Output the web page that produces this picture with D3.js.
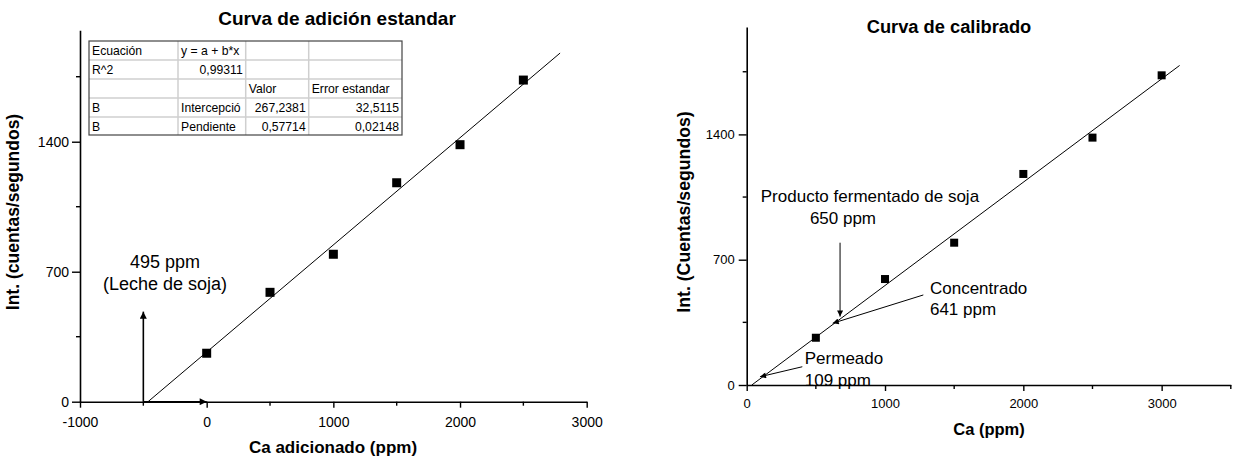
<!DOCTYPE html>
<html><head><meta charset="utf-8">
<script src="https://cdn.jsdelivr.net/npm/d3@7"></script>
<style>
body{margin:0;background:#fff}
text{font-family:"Liberation Sans",Arial,Helvetica,sans-serif;fill:#000}
</style>
</head><body>
<svg id="c" width="1237" height="465"></svg>
<script>
// ---------- data ----------
const addCa = [0, 500, 1000, 1500, 2000, 2500];
const addInt = [261, 589, 794, 1179, 1384, 1732];
const addFit = {a: 267.2381, b: 0.57714, from: -463, to: 2790};
const addXMajor = [-1000, 0, 1000, 2000, 3000];
const addXMinor = [-500, 500, 1500, 2500];
const addYMajor = [0, 700, 1400];
const addYMinor = [350, 1050, 1750];

const calCa = [500, 1000, 1500, 2000, 2500, 3000];
const calInt = [264, 592, 795, 1179, 1382, 1730];
const calFit = {a: -21.33, b: 0.57714, from: 37, to: 3130};
const calXMajor = [0, 1000, 2000, 3000];
const calXMinor = [500, 1500, 2500, 3500];
const calYMajor = [0, 700, 1400];
const calYMinor = [350, 1050, 1750];

const tableRows = [
  ["Ecuación", "y = a + b*x", "", ""],
  ["R^2", "0,99311", "", ""],
  ["", "", "Valor", "Error estandar"],
  ["B", "Intercepció", "267,2381", "32,5115"],
  ["B", "Pendiente", "0,57714", "0,02148"]
];

const svg = d3.select("#c");
const defs = svg.append("defs");
defs.append("marker").attr("id","headBig").attr("viewBox","0 0 10 10")
  .attr("refX",10).attr("refY",5).attr("markerWidth",10).attr("markerHeight",7)
  .attr("markerUnits","userSpaceOnUse").attr("orient","auto")
  .append("path").attr("d","M0,0L10,5L0,10Z").attr("fill","#000");
defs.append("marker").attr("id","headSmall").attr("viewBox","0 0 10 10")
  .attr("refX",10).attr("refY",5).attr("markerWidth",9).attr("markerHeight",6)
  .attr("markerUnits","userSpaceOnUse").attr("orient","auto")
  .append("path").attr("d","M0,0L10,5L0,10Z").attr("fill","#000");

function drawAxes(x, y, xMaj, xMin, yMaj, yMin, fs, xLabY, yLabX) {
  const y0 = y(0), x0 = x.domain()[0];
  const gx = svg.append("g").attr("transform", `translate(0,${y0})`)
    .call(d3.axisBottom(x).tickValues(xMaj).tickSize(6).tickSizeOuter(0).tickFormat(d => String(d)));
  gx.select(".domain").attr("stroke","#000").attr("stroke-width",1.6);
  gx.selectAll(".tick line").attr("stroke","#000").attr("stroke-width",1.4);
  gx.selectAll(".tick text").attr("font-size",fs).attr("y",xLabY).attr("dy",0);
  gx.selectAll(".minor").data(xMin).enter().append("line")
    .attr("x1",d=>x(d)).attr("x2",d=>x(d)).attr("y1",0).attr("y2",4)
    .attr("stroke","#000").attr("stroke-width",1.4);

  const gy = svg.append("g").attr("transform", `translate(${x(x0)},0)`)
    .call(d3.axisLeft(y).tickValues(yMaj).tickSize(8).tickSizeOuter(0).tickPadding(yLabX).tickFormat(d => String(d)));
  gy.select(".domain").attr("stroke","#000").attr("stroke-width",1.6);
  gy.selectAll(".tick line").attr("stroke","#000").attr("stroke-width",1.4);
  gy.selectAll(".tick text").attr("font-size",fs);
  gy.selectAll(".minor").data(yMin).enter().append("line")
    .attr("y1",d=>y(d)).attr("y2",d=>y(d)).attr("x1",0).attr("x2",-4)
    .attr("stroke","#000").attr("stroke-width",1.4);
}

function drawFit(x, y, fit) {
  const pts = [fit.from, fit.to].map(v => [x(v), y(fit.a + fit.b * v)]);
  svg.append("path").attr("d", d3.line()(pts)).attr("stroke","#000").attr("stroke-width",1).attr("fill","none");
}
function drawPoints(x, y, xs, ys, s) {
  svg.append("g").selectAll("rect").data(xs).enter().append("rect")
    .attr("x",(d)=>x(d)-s/2).attr("y",(d,i)=>y(ys[i])-s/2).attr("width",s).attr("height",s).attr("fill","#000");
}

// ---------- left chart ----------
const xL = d3.scaleLinear().domain([-1000, 3000]).range([80, 586.7]);
const yL = d3.scaleLinear().domain([0, 2000]).range([401.7, 30.3]);
drawAxes(xL, yL, addXMajor, addXMinor, addYMajor, addYMinor, 14, 25, 3);
drawFit(xL, yL, addFit);
drawPoints(xL, yL, addCa, addInt, 9);

// annotation arrows (data units)
svg.append("line").attr("x1",xL(-500)).attr("x2",xL(-500)).attr("y1",yL(0)).attr("y2",yL(485))
  .attr("stroke","#000").attr("stroke-width",1.6).attr("marker-end","url(#headBig)");
svg.append("line").attr("x1",xL(-500)).attr("x2",xL(0)).attr("y1",yL(0)).attr("y2",yL(0))
  .attr("stroke","#000").attr("stroke-width",1.6).attr("marker-end","url(#headBig)");
svg.append("text").attr("x",xL(-329)).attr("y",yL(718)).attr("text-anchor","middle").attr("font-size",18).text("495 ppm");
svg.append("text").attr("x",xL(-329)).attr("y",yL(601)).attr("text-anchor","middle").attr("font-size",18).text("(Leche de soja)");

svg.append("text").attr("x",337).attr("y",25).attr("text-anchor","middle").attr("font-size",19).attr("font-weight","bold").text("Curva de adición estandar");
svg.append("text").attr("x",333).attr("y",453).attr("text-anchor","middle").attr("font-size",17).attr("font-weight","bold").text("Ca adicionado (ppm)");
svg.append("text").attr("transform","translate(19,212) rotate(-90)").attr("text-anchor","middle").attr("font-size",17.5).attr("font-weight","bold").text("Int. (cuentas/segundos)");

// table
const colX = [89, 178, 245.7, 308.7, 402];
const rowY = [41, 60, 79, 98, 117, 135];
const tg = svg.append("g");
for (let r = 1; r < rowY.length - 1; r++)
  tg.append("line").attr("x1",colX[0]).attr("x2",colX[4]).attr("y1",rowY[r]).attr("y2",rowY[r]).attr("stroke","#cfcfcf").attr("stroke-width",1.5);
for (let c = 1; c < colX.length - 1; c++)
  tg.append("line").attr("x1",colX[c]).attr("x2",colX[c]).attr("y1",rowY[0]).attr("y2",rowY[5]).attr("stroke","#cfcfcf").attr("stroke-width",1.5);
tg.append("rect").attr("x",colX[0]).attr("y",rowY[0]).attr("width",colX[4]-colX[0]).attr("height",rowY[5]-rowY[0])
  .attr("fill","none").attr("stroke","#444").attr("stroke-width",1.2);
tableRows.forEach((row, r) => row.forEach((t, c) => {
  if (!t) return;
  const num = /^[\d,]+$/.test(t);
  tg.append("text").attr("x", num ? colX[c+1]-3 : colX[c]+3).attr("y", rowY[r]+14)
    .attr("text-anchor", num ? "end" : "start").attr("font-size",12.2).text(t);
}));

// ---------- right chart ----------
const xR = d3.scaleLinear().domain([0, 3500]).range([746.7, 1230.8]);
const yR = d3.scaleLinear().domain([0, 2000]).range([385, 27]);
drawAxes(xR, yR, calXMajor, calXMinor, calYMajor, calYMinor, 13, 23, 4);
drawFit(xR, yR, calFit);
drawPoints(xR, yR, calCa, calInt, 8);

const arrowsR = [
  {x1: 675, y1: 795, x2: 675, y2: 382},
  {x1: 1277, y1: 503, x2: 622, y2: 345},
  {x1: 402, y1: 102, x2: 96, y2: 46}
];
svg.append("g").selectAll("line").data(arrowsR).enter().append("line")
  .attr("x1",d=>xR(d.x1)).attr("y1",d=>yR(d.y1)).attr("x2",d=>xR(d.x2)).attr("y2",d=>yR(d.y2))
  .attr("stroke","#000").attr("stroke-width",1).attr("marker-end","url(#headSmall)");

const labelsR = [
  {t:"Producto fermentado de soja", x: 891, y: 1022, a:"middle"},
  {t:"650 ppm", x: 696, y: 899, a:"middle"},
  {t:"Concentrado", x: 1325, y: 508, a:"start"},
  {t:"641 ppm", x: 1325, y: 391, a:"start"},
  {t:"Permeado", x: 420, y: 120, a:"start"},
  {t:"109 ppm", x: 420, y: -3, a:"start"}
];
svg.append("g").selectAll("text").data(labelsR).enter().append("text")
  .attr("x",d=>xR(d.x)).attr("y",d=>yR(d.y)).attr("text-anchor",d=>d.a).attr("font-size",17).text(d=>d.t);

svg.append("text").attr("x",949).attr("y",33).attr("text-anchor","middle").attr("font-size",18.3).attr("font-weight","bold").text("Curva de calibrado");
svg.append("text").attr("x",989).attr("y",435).attr("text-anchor","middle").attr("font-size",16.5).attr("font-weight","bold").text("Ca (ppm)");
svg.append("text").attr("transform","translate(690,212) rotate(-90)").attr("text-anchor","middle").attr("font-size",17.7).attr("font-weight","bold").text("Int. (Cuentas/segundos)");
</script>
</body></html>
